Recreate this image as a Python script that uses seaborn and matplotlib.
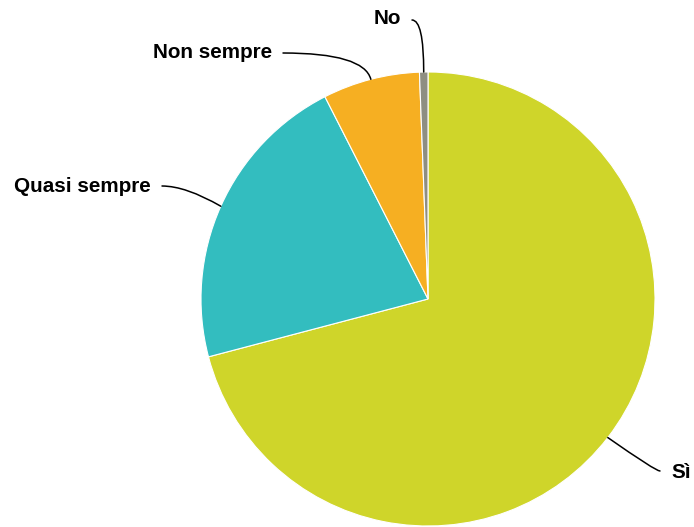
import matplotlib
matplotlib.use("Agg")
import matplotlib.pyplot as plt
import seaborn as sns
import numpy as np

sns.set_theme(style="white")
plt.rcParams['font.family'] = ['Liberation Sans', 'DejaVu Sans']

categories = ["Sì", "Quasi sempre", "Non sempre", "No"]
values = [70.9, 21.6, 6.9, 0.6]
colors = ["#CFD52A", "#33BDBF", "#F6AF22", "#8E8E82"]

W, H = 694, 527
fig = plt.figure(figsize=(W / 100, H / 100), dpi=100)
ax = fig.add_axes([0, 0, 1, 1])
cx, cy, r = 428, H - 299, 227
wedges, _ = ax.pie(values, colors=colors, startangle=90, counterclock=False,
                   center=(cx, cy), radius=r,
                   wedgeprops=dict(edgecolor="white", linewidth=0.8))
ax.set_xlim(0, W)
ax.set_ylim(0, H)
ax.set_aspect("equal")
ax.axis("off")

# label layout: (line start px, text anchor px, ha, connection)
layout = {
    "Sì": ((660, 471), (671, 472), "left", "angle3,angleA=180,angleB=-35"),
    "Quasi sempre": ((162, 186), (151, 186), "right", "angle3,angleA=0,angleB=-30"),
    "Non sempre": ((283, 53), (272, 52), "right", "angle3,angleA=0,angleB=-75"),
    "No": ((412, 20), (401, 18), "right", "angle3,angleA=0,angleB=-90"),
}
for w, cat in zip(wedges, categories):
    mid = np.deg2rad((w.theta1 + w.theta2) / 2)
    ex, ey = cx + r * np.cos(mid), cy + r * np.sin(mid)
    (lx, ly), (tx, ty), ha, cs = layout[cat]
    ax.annotate("", xy=(ex, ey), xytext=(lx, H - ly),
                arrowprops=dict(arrowstyle="-", color="black", lw=1.1,
                                connectionstyle=cs, shrinkA=0, shrinkB=0))
    ax.text(tx, H - ty, cat, ha=ha, va="center", fontsize=14.9,
            fontweight="bold", color="black")

fig.savefig("out.png", dpi=100)
